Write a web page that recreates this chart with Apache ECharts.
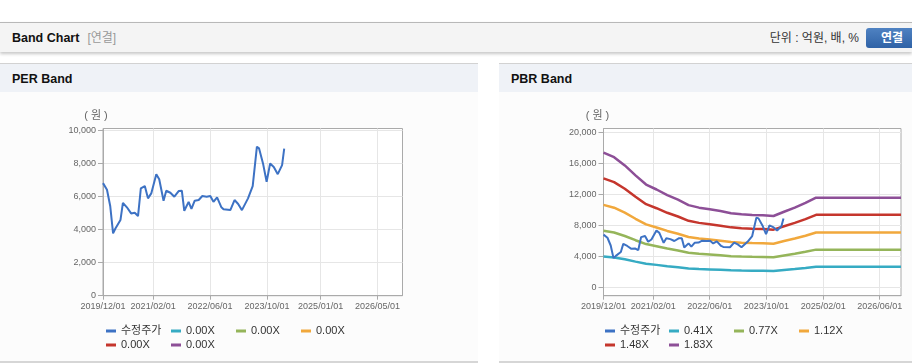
<!DOCTYPE html>
<html><head><meta charset="utf-8">
<script src="https://cdn.jsdelivr.net/npm/echarts@6/dist/echarts.min.js"></script>
<style>
body{margin:0;width:912px;height:364px;overflow:hidden;background:#fff;position:relative;font-family:"Liberation Sans",Arial,"Noto Sans CJK KR",sans-serif;}
.abs{position:absolute;}
#hdr{left:0;top:22px;width:912px;height:29px;background:#f4f4f4;border-top:1px solid #b8b8b8;box-shadow:0 2px 3px rgba(0,0,0,0.22);}
#hdr .t{left:12px;top:0;line-height:31px;font-size:12.5px;font-weight:bold;color:#111;}
#hdr .t span{font-weight:normal;color:#999;margin-left:8px;font-size:12px;}
#hdr .u{right:53px;top:0;line-height:31px;font-size:12px;color:#333;}
#hdr .b{left:866px;top:5px;width:52px;height:20px;border-radius:3px;background:linear-gradient(#4f82c2,#2f62a6);color:#fff;font-weight:bold;font-size:12px;line-height:20px;text-align:center;}
.panel{top:63px;height:297px;border-top:1px solid #d2d2d2;border-bottom:2px solid #d6d6d6;background:#fcfcfc;}
.panel .ph{left:0;top:0;right:0;height:28px;background:#eff2f7;}
.panel .ph div{left:12px;top:0;line-height:30px;font-size:12.5px;font-weight:bold;color:#111;}
#chart{left:0;top:0;width:912px;height:364px;}
</style>
</head><body>
<div id="hdr" class="abs"><div class="abs t">Band Chart<span>[연결]</span></div><div class="abs u">단위 : 억원, 배, %</div><div class="abs b">연결</div></div>
<div class="abs panel" style="left:0;width:478px;"><div class="abs ph"><div class="abs">PER Band</div></div></div>
<div class="abs panel" style="left:499px;width:413px;"><div class="abs ph"><div class="abs">PBR Band</div></div></div>
<div id="chart" class="abs"></div>
<script>
// ---- data ----
const priceDates = ['2019-12-01','2020-01-04','2020-02-01','2020-02-25','2020-03-16','2020-04-28','2020-05-19','2020-06-22','2020-07-28','2020-08-28','2020-09-25','2020-10-19','2020-11-22','2020-12-19','2021-01-16','2021-02-28','2021-03-25','2021-05-01','2021-05-24','2021-06-28','2021-08-01','2021-09-07','2021-10-04','2021-10-25','2021-12-01','2021-12-25','2022-01-22','2022-02-25','2022-03-28','2022-05-04','2022-06-04','2022-07-01','2022-08-01','2022-09-07','2022-09-25','2022-11-22','2022-12-01','2022-12-28','2023-01-28','2023-03-01','2023-04-22','2023-06-01','2023-07-07','2023-07-25','2023-08-28','2023-09-28','2023-10-28','2023-11-28','2024-01-01','2024-02-07','2024-02-25'];
const priceValues = [6800,6400,5400,3770,4060,4570,5610,5340,4970,5010,4810,6480,6620,5880,6180,7330,7030,5740,6340,6220,5980,6320,6340,5130,5670,5250,5740,5780,6020,5980,6020,5670,5940,5340,5220,5170,5130,5780,5540,5170,5880,6620,9000,8900,7990,6880,7990,7780,7340,7890,8880];
const bandDates = ['2019-12-01','2020-03-01','2020-06-01','2020-09-01','2020-12-01','2021-03-01','2021-06-01','2021-09-01','2021-12-01','2022-03-01','2022-06-01','2022-09-01','2022-12-01','2023-03-01','2023-06-01','2023-09-01','2023-12-01','2024-03-01','2024-06-01','2024-09-01','2024-12-01','2026-12-01'];
const band041 = [3990,3856,3612,3318,3045,2898,2730,2596,2436,2360,2310,2260,2197,2163,2146,2138,2113,2239,2360,2499,2654,2654];
const band077 = [7315,7069,6622,6083,5583,5313,5005,4759,4466,4327,4235,4143,4027,3966,3935,3919,3873,4104,4327,4582,4866,4866];
const band112 = [10640,10282,9632,8848,8120,7728,7280,6922,6496,6294,6160,6026,5858,5768,5723,5701,5634,5970,6294,6664,7078,7078];
const band148 = [14060,13586,12728,11692,10730,10212,9620,9146,8584,8318,8140,7962,7740,7622,7563,7533,7444,7888,8318,8806,9354,9354];
const band183 = [17385,16799,15738,14457,13268,12627,11895,11309,10614,10285,10065,9845,9571,9425,9351,9315,9205,9754,10285,10889,11566,11566];
const priceName = '수정주가';
const perBandNames = ['0.00X','0.00X','0.00X','0.00X','0.00X'];
const pbrBandNames = ['0.41X','0.77X','1.12X','1.48X','1.83X'];
const perXLabels = ['2019-12-01','2021-02-01','2022-06-01','2023-10-01','2025-01-01','2026-05-01'];
const pbrXLabels = ['2019-12-01','2021-02-01','2022-06-01','2023-10-01','2025-02-01','2026-06-01'];
const perYTicks = [0,2000,4000,6000,8000,10000];
const pbrYTicks = [0,4000,8000,12000,16000,20000];
const xStart = '2019-12-01', xEnd = '2026-12-01';

// ---- style ----
const FONT = '"Liberation Sans", Arial, "Noto Sans CJK KR", sans-serif';
const priceColor = '#3d72c4';
const bandColors = ['#36abc3','#95b55a','#f1a83c','#c5362d','#8d4f97'];
const axisGray = '#aaaaaa', splitGray = '#e6e6e6';

const ts = s => Date.parse(s); // ISO date -> UTC ms
function fmtDate(v){
  const d = new Date(v);
  const p = n => (n < 10 ? '0' : '') + n;
  return d.getUTCFullYear() + '/' + p(d.getUTCMonth() + 1) + '/' + p(d.getUTCDate());
}
function pairs(dates, vals){ return dates.map((d, i) => [ts(d), vals[i]]); }

function xAxis(gi, labels){
  const cv = labels.map(ts);
  return {type:'value', gridIndex:gi, min:ts(xStart), max:ts(xEnd),
    axisLine:{show:true, onZero:false, lineStyle:{color:axisGray}},
    axisTick:{show:true, customValues:cv, length:4, lineStyle:{color:axisGray}},
    axisLabel:{customValues:cv, formatter:fmtDate, fontSize:9, color:'#666', margin:6, fontFamily:FONT, hideOverlap:false, showMinLabel:true, showMaxLabel:true},
    splitLine:{show:true, lineStyle:{color:splitGray}}};
}
function yAxis(gi, min, max, ticks, shift){
  return {type:'value', gridIndex:gi, min:min, max:max,
    name:'( 원 )', nameLocation:'end', nameGap:7,
    nameTextStyle:{fontSize:11, color:'#666', fontFamily:FONT, align:'center', padding:[0, shift, 0, 0]},
    axisLine:{show:true, lineStyle:{color:axisGray}},
    axisTick:{show:true, customValues:ticks, length:5, lineStyle:{color:axisGray}},
    axisLabel:{customValues:ticks, formatter:v => Number(v).toLocaleString('en-US'), fontSize:9, color:'#666', margin:7, fontFamily:FONT},
    splitLine:{show:true, lineStyle:{color:splitGray}}};
}
function legendItems(names, colors, lefts, tops){
  return names.map((n, i) => ({
    data:[{name:n, itemStyle:{color:colors[i]}}],
    left:lefts[i], top:tops[i], icon:'rect', itemWidth:10, itemHeight:3, padding:0,
    selectedMode:false, textStyle:{fontSize:11, color:'#333', fontFamily:FONT}
  }));
}

const allColors = [priceColor].concat(bandColors);
const perNames = [priceName].concat(perBandNames);
const pbrNames = [priceName].concat(pbrBandNames);
const row1 = 325.5, row2 = 339.5;

const series = [];
perBandNames.forEach((n, i) => series.push({type:'line', name:n, xAxisIndex:0, yAxisIndex:0, data:[], showSymbol:false, lineStyle:{width:2.5, color:bandColors[i]}, itemStyle:{color:bandColors[i]}}));
series.push({type:'line', name:priceName, xAxisIndex:0, yAxisIndex:0, data:pairs(priceDates, priceValues), showSymbol:false, lineStyle:{width:2, color:priceColor}, itemStyle:{color:priceColor}, z:5});
const pbrBands = [band041, band077, band112, band148, band183];
pbrBandNames.forEach((n, i) => series.push({type:'line', name:n, xAxisIndex:1, yAxisIndex:1, data:pairs(bandDates, pbrBands[i]), showSymbol:false, lineStyle:{width:2.5, color:bandColors[i]}, itemStyle:{color:bandColors[i]}}));
series.push({type:'line', name:priceName, xAxisIndex:1, yAxisIndex:1, data:pairs(priceDates, priceValues), showSymbol:false, lineStyle:{width:2, color:priceColor}, itemStyle:{color:priceColor}, z:5});

const option = {
  animation:false,
  grid:[
    {left:103, top:128.5, width:299.5, height:167.2, show:true, borderColor:axisGray, borderWidth:1, backgroundColor:'#fff'},
    {left:603.5, top:128.5, width:297.5, height:167.2, show:true, borderColor:axisGray, borderWidth:1, backgroundColor:'#fff'}
  ],
  xAxis:[xAxis(0, perXLabels), xAxis(1, pbrXLabels)],
  yAxis:[yAxis(0, 0, 10100, perYTicks, 14), yAxis(1, -1080, 20500, pbrYTicks, 12)],
  legend: legendItems(perNames, allColors, [106,171,236,301,106,171], [row1,row1,row1,row1,row2,row2])
    .concat(legendItems(pbrNames, allColors, [605,669,734,799,605,669], [row1,row1,row1,row1,row2,row2])),
  series: series
};
const chart = echarts.init(document.getElementById('chart'), null, {renderer:'canvas'});
chart.setOption(option);
</script>
</body></html>
